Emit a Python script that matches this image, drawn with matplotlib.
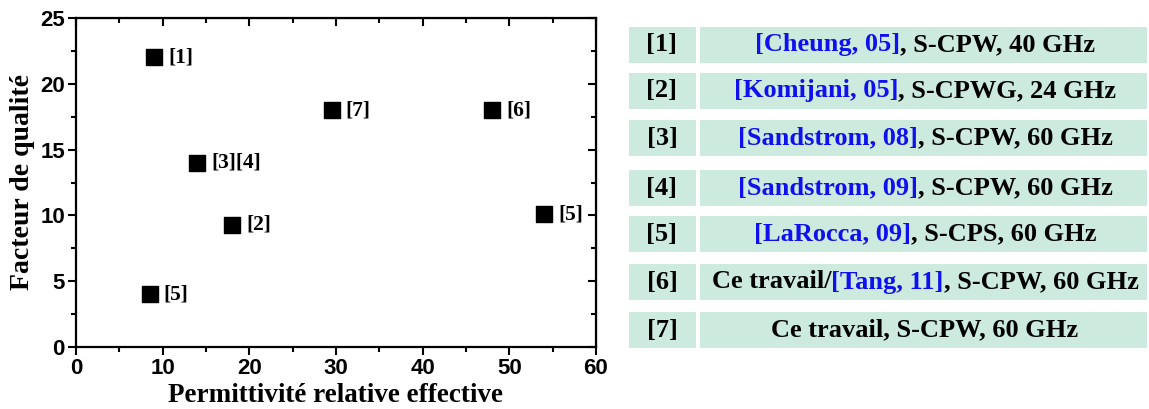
import matplotlib
matplotlib.use('Agg')
import matplotlib.pyplot as plt
from matplotlib.ticker import MultipleLocator
from matplotlib.patches import Rectangle

# data
eps_eff = [9, 18, 14, 8.5, 54, 48, 29.5]
q_factor = [22, 9.3, 14, 4, 10.1, 18, 18]
point_labels = ['[1]', '[2]', '[3][4]', '[5]', '[5]', '[6]', '[7]']

ref_ids = ['[1]', '[2]', '[3]', '[4]', '[5]', '[6]', '[7]']
# each description is a list of (text, is_citation) pieces
ref_desc = [
    [('[Cheung, 05]', True), (', S-CPW, 40 GHz', False)],
    [('[Komijani, 05]', True), (', S-CPWG, 24 GHz', False)],
    [('[Sandstrom, 08]', True), (', S-CPW, 60 GHz', False)],
    [('[Sandstrom, 09]', True), (', S-CPW, 60 GHz', False)],
    [('[LaRocca, 09]', True), (', S-CPS, 60 GHz', False)],
    [('Ce travail/', False), ('[Tang, 11]', True), (', S-CPW, 60 GHz', False)],
    [('Ce travail, S-CPW, 60 GHz', False)],
]

W, H = 1149, 409
fig = plt.figure(figsize=(W / 100, H / 100), dpi=100)
serif = 'Liberation Serif'
sans = 'Liberation Sans'

ax = fig.add_axes([76 / W, (H - 347) / H, 520 / W, 329 / H])
ax.scatter(eps_eff, q_factor, marker='s', s=140, color='black', zorder=3)
for x, y, lab in zip(eps_eff, q_factor, point_labels):
    ax.annotate(lab, (x, y), xytext=(10, 0), textcoords='offset points',
                va='center', ha='left', fontsize=15.5, fontweight='bold', family=serif)

ax.set_xlim(0, 60)
ax.set_ylim(0, 25)
ax.xaxis.set_major_locator(MultipleLocator(10))
ax.xaxis.set_minor_locator(MultipleLocator(5))
ax.yaxis.set_major_locator(MultipleLocator(5))
ax.yaxis.set_minor_locator(MultipleLocator(2.5))
# Origin style: outward on bottom/left, inward on top/right
ax.tick_params(which='both', direction='out', width=1.5)
ax.tick_params(which='major', length=6, labelsize=16, pad=2)
ax.tick_params(which='minor', length=3.5)
ax2 = ax.secondary_xaxis('top')
ax3 = ax.secondary_yaxis('right')
for sec, ml, mn in ((ax2.xaxis, 10, 5), (ax3.yaxis, 5, 2.5)):
    sec.set_major_locator(MultipleLocator(ml))
    sec.set_minor_locator(MultipleLocator(mn))
for sec in (ax2, ax3):
    sec.tick_params(which='both', direction='in', width=1.5)
    sec.tick_params(which='major', length=6)
    sec.tick_params(which='minor', length=3.5)
ax2.set_xticklabels([])
ax3.set_yticklabels([])
for t in ax.get_xticklabels() + ax.get_yticklabels():
    t.set_family(sans)
    t.set_fontweight('bold')
for sp in ax.spines.values():
    sp.set_linewidth(1.6)
ax.set_xlabel('Permittivité relative effective', fontsize=19.5, fontweight='bold',
              family=serif, labelpad=3)
ax.set_ylabel('Facteur de qualité', fontsize=20, fontweight='bold', family=serif,
              labelpad=4)

# reference table on the right
cell_color = '#cdeadf'
row_tops = [27, 73, 120, 170, 216, 264, 312]
row_h = 36
renderer = fig.canvas.get_renderer()
for top, rid, pieces in zip(row_tops, ref_ids, ref_desc):
    y0 = (H - top - row_h) / H
    fig.patches.append(Rectangle((629 / W, y0), 67 / W, row_h / H, transform=fig.transFigure,
                                 facecolor=cell_color, edgecolor='none'))
    fig.patches.append(Rectangle((700 / W, y0), 447 / W, row_h / H, transform=fig.transFigure,
                                 facecolor=cell_color, edgecolor='none'))
    yc = (H - top - row_h / 2) / H
    fig.text(662 / W, yc, rid, ha='center', va='center', fontsize=19,
             fontweight='bold', family=serif)
    # measure the pieces, then lay them out centred in the wide cell
    texts = []
    for s, cite in pieces:
        t = fig.text(0, yc, s, ha='left', va='center', fontsize=19, fontweight='bold',
                     family=serif, color='#1010ee' if cite else 'black')
        texts.append(t)
    widths = [t.get_window_extent(renderer).width for t in texts]
    x = 925 - sum(widths) / 2
    for t, w in zip(texts, widths):
        t.set_x(x / W)
        x += w

fig.savefig('out.png', dpi=100)
